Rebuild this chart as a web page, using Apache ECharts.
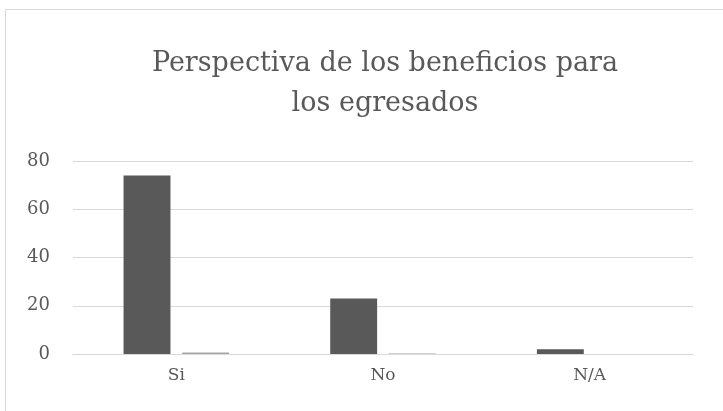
<!DOCTYPE html>
<html>
<head>
<meta charset="utf-8">
<script src="https://cdn.jsdelivr.net/npm/echarts@6/dist/echarts.min.js"></script>
<style>
html,body{margin:0;padding:0;background:#fff;}
#c{width:723px;height:411px;}
</style>
</head>
<body>
<div id="c"></div>
<script>
var categories = ['Si', 'No', 'N/A'];
var series1 = [74, 23, 2];
var series2 = [0.6, 0.2, 0];
var yTicks = [0, 20, 40, 60, 80];

var chart = echarts.init(document.getElementById('c'), null, {renderer: 'canvas'});
var font = '"DejaVu Serif", "Liberation Serif", serif';
chart.setOption({
  animation: false,
  backgroundColor: '#ffffff',
  graphic: [{
    type: 'rect',
    shape: {x: 5.5, y: 9.5, width: 740, height: 420},
    style: {fill: 'none', stroke: '#d9d9d9', lineWidth: 1},
    silent: true
  }],
  title: {
    text: 'Perspectiva de los beneficios para\nlos egresados',
    left: 380,
    textAlign: 'center',
    top: 39,
    textStyle: {
      fontFamily: font,
      fontWeight: 'normal',
      fontSize: 27,
      lineHeight: 40,
      color: '#595959'
    }
  },
  grid: {left: 73, right: 30, top: 161, bottom: 57},
  xAxis: {
    type: 'category',
    data: categories,
    axisTick: {show: false},
    axisLine: {lineStyle: {color: '#d9d9d9', width: 1}},
    axisLabel: {fontFamily: font, fontSize: 17, color: '#595959', margin: 13}
  },
  yAxis: {
    type: 'value',
    min: yTicks[0],
    max: yTicks[yTicks.length - 1],
    interval: 20,
    axisLine: {show: false},
    axisTick: {show: false},
    splitLine: {lineStyle: {color: '#d9d9d9', width: 1}},
    axisLabel: {fontFamily: font, fontSize: 18, color: '#595959', margin: 23}
  },
  series: [{
    type: 'bar',
    data: series1,
    barWidth: '22.7%',
    barGap: '25%',
    itemStyle: {color: '#595959'}
  }, {
    type: 'bar',
    data: series2,
    barWidth: '22.7%',
    itemStyle: {color: '#a5a5a5'}
  }]
});
</script>
</body>
</html>
